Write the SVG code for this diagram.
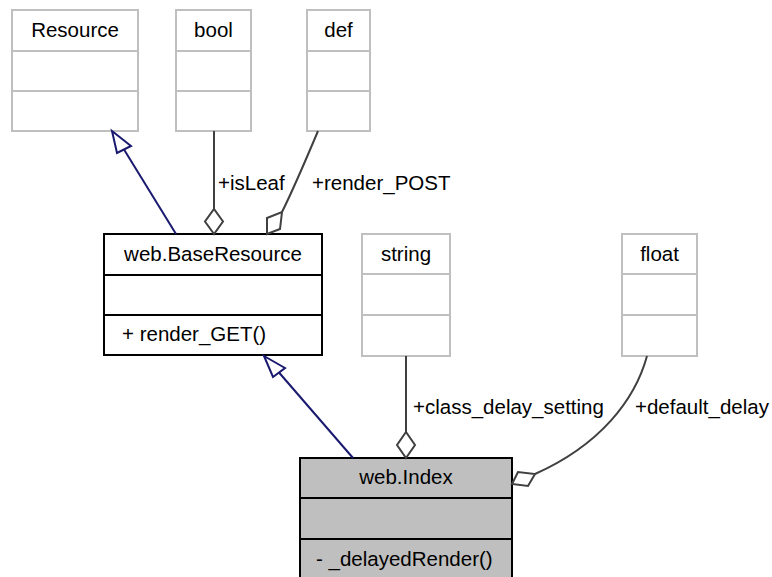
<svg xmlns="http://www.w3.org/2000/svg" width="772" height="577" viewBox="0 0 772 577">
<style>
text{font-family:"Liberation Sans",Arial,sans-serif;font-size:20.5px;fill:#000}
.c{text-anchor:middle}
.g rect,.g line{fill:#fff;stroke:#bfbfbf;stroke-width:2}
.k rect,.k line{stroke:#000;stroke-width:2}
.inh{fill:none;stroke:#191970;stroke-width:2}
.agg{fill:none;stroke:#404040;stroke-width:2}
</style>
<rect width="772" height="577" fill="#fff"/>
<g id="node-Resource" class="g">
<rect x="12" y="10" width="126" height="121"/>
<line x1="12" y1="51" x2="138" y2="51"/><line x1="12" y1="91" x2="138" y2="91"/>
<text class="c" x="75" y="37">Resource</text>
</g>
<g id="node-bool" class="g">
<rect x="176" y="10" width="75" height="121"/>
<line x1="176" y1="51" x2="251" y2="51"/><line x1="176" y1="91" x2="251" y2="91"/>
<text class="c" x="213.5" y="37">bool</text>
</g>
<g id="node-def" class="g">
<rect x="307" y="10" width="63" height="121"/>
<line x1="307" y1="51" x2="370" y2="51"/><line x1="307" y1="91" x2="370" y2="91"/>
<text class="c" x="338.5" y="37">def</text>
</g>
<g id="node-BaseResource" class="k">
<rect x="104" y="234" width="218" height="121" fill="#fff"/>
<line x1="104" y1="275" x2="322" y2="275"/><line x1="104" y1="315" x2="322" y2="315"/>
<text class="c" x="213" y="261">web.BaseResource</text>
<text x="122" y="341">+ render_GET()</text>
</g>
<g id="node-string" class="g">
<rect x="362" y="234" width="88" height="122"/>
<line x1="362" y1="274" x2="450" y2="274"/><line x1="362" y1="315" x2="450" y2="315"/>
<text class="c" x="406" y="261">string</text>
</g>
<g id="node-float" class="g">
<rect x="622" y="234" width="75" height="122"/>
<line x1="622" y1="274" x2="697" y2="274"/><line x1="622" y1="315" x2="697" y2="315"/>
<text class="c" x="659.5" y="261">float</text>
</g>
<g id="node-Index" class="k">
<rect x="300" y="458" width="212" height="122" fill="#bfbfbf"/>
<line x1="300" y1="498" x2="512" y2="498"/><line x1="300" y1="539" x2="512" y2="539"/>
<text class="c" x="406" y="484">web.Index</text>
<text x="316" y="566">- _delayedRender()</text>
</g>
<g id="connectors">
<path class="inh" d="M176,234 L124,149.5"/>
<polygon class="inh" points="112,131 131,146 117,153"/>
<path class="inh" d="M353,458 L279,372.5"/>
<polygon class="inh" points="264,356 285,368 273,377"/>
<path class="agg" d="M214,131 L214,209"/>
<polygon class="agg" points="214,234 205,221.5 214,209 223,221.5" fill="#fff"/>
<path class="agg" d="M318,131 C310,150 292,192 282,212"/>
<polygon class="agg" points="267,234 267,218 282,212 280,229" fill="#fff"/>
<path class="agg" d="M406,356 L406,432"/>
<polygon class="agg" points="406,458 397,445 406,432 415,445" fill="#fff"/>
<path class="agg" d="M647,356 C635,400 600,445 535,474"/>
<polygon class="agg" points="512,484 518,472 535,474 528,486" fill="#fff"/>
<text x="218" y="190">+isLeaf</text>
<text x="312" y="190">+render_POST</text>
<text x="413" y="414">+class_delay_setting</text>
<text x="635" y="414">+default_delay</text>
</g>
</svg>
